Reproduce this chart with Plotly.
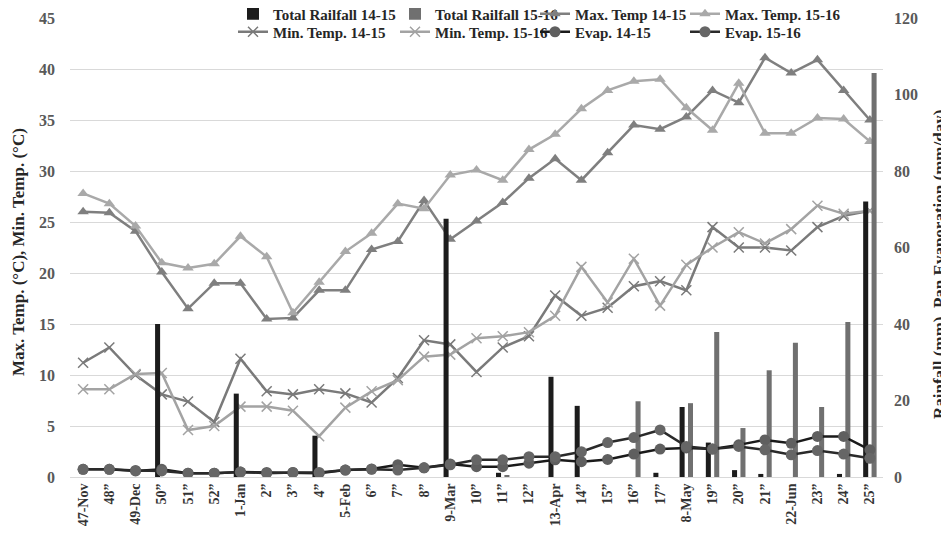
import plotly.graph_objects as go

categories = ["47-Nov", "48”", "49-Dec", "50”", "51”", "52”", "1-Jan", "2”", "3”", "4”",
              "5-Feb", "6”", "7”", "8”", "9-Mar", "10”", "11”", "12”", "13-Apr", "14”",
              "15”", "16”", "17”", "8-May", "19”", "20”", "21”", "22-Jun", "23”", "24”", "25”"]

rain_14_15 = [0, 0, 0, 40.0, 0, 0, 21.8, 0, 0, 10.8, 0, 0, 0, 0, 67.5, 0, 1.1, 0, 26.2, 18.6,
              0, 0, 1.1, 18.3, 9.0, 1.8, 0.8, 0, 0, 0.8, 72.0]
rain_15_16 = [0, 0, 0, 0, 0, 0, 0, 0, 0, 0, 0, 0, 0, 0, 0, 0, 0.5, 0, 0, 0,
              0, 19.8, 0, 19.3, 37.9, 12.8, 27.9, 35.1, 18.3, 40.5, 105.6]

max_14_15 = [26.0, 25.9, 24.1, 20.1, 16.5, 19.0, 19.0, 15.5, 15.6, 18.3, 18.3, 22.3, 23.1, 27.1,
             23.3, 25.1, 26.9, 29.3, 31.2, 29.1, 31.8, 34.5, 34.1, 35.3, 37.9, 36.7, 41.1, 39.6,
             40.9, 37.9, 35.0]
max_15_16 = [27.8, 26.8, 24.6, 21.0, 20.5, 20.9, 23.6, 21.6, 16.1, 19.1, 22.1, 23.9, 26.8, 26.3,
             29.6, 30.1, 29.1, 32.1, 33.6, 36.1, 37.9, 38.8, 39.0, 36.2, 34.0, 38.6, 33.7, 33.7,
             35.2, 35.1, 32.9]

min_14_15 = [11.2, 12.7, 10.0, 8.1, 7.4, 5.4, 11.6, 8.4, 8.1, 8.6, 8.2, 7.3, 9.7, 13.4, 13.0,
             10.3, 12.7, 13.8, 17.8, 15.8, 16.6, 18.7, 19.2, 18.3, 24.5, 22.5, 22.5, 22.2, 24.5,
             25.6, 26.1]
min_15_16 = [8.6, 8.6, 10.1, 10.2, 4.6, 5.0, 6.9, 6.9, 6.5, 4.0, 6.8, 8.4, 9.5, 11.8, 12.0,
             13.6, 13.8, 14.2, 15.8, 20.6, 17.1, 21.4, 16.8, 20.8, 22.5, 24.0, 22.9, 24.3, 26.6,
             25.8, 26.1]

evap_14_15 = [2.0, 2.0, 1.6, 2.0, 1.0, 1.0, 1.3, 1.2, 1.2, 1.0, 1.8, 2.1, 3.2, 2.4, 3.4,
              2.7, 2.7, 3.6, 4.5, 4.0, 4.6, 6.0, 7.3, 7.6, 7.3, 8.4, 9.7, 8.8, 10.6, 10.6, 7.1]
evap_15_16 = [2.0, 2.0, 1.7, 1.6, 1.0, 1.0, 1.3, 1.0, 1.2, 1.2, 1.8, 2.0, 1.8, 2.4, 3.2,
              4.5, 4.5, 5.3, 5.3, 6.6, 9.0, 10.3, 12.3, 8.0, 7.3, 8.0, 7.1, 5.8, 6.9, 6.0, 4.9]

SERIF = "Liberation Serif"
W, H = 949, 541
plot_l, plot_w = 62, 813
plot_t, plot_h = 10, 459


def lx(px):
    return (px - plot_l) / plot_w


def ly(py):
    return (plot_t + plot_h - py) / plot_h


legend_font = dict(family=SERIF, size=15, color="#262626", weight="bold")


def leg(xpx, ypx):
    return dict(x=lx(xpx), y=ly(ypx), xanchor="left", yanchor="middle", orientation="v",
                font=legend_font, bgcolor="rgba(0,0,0,0)", itemwidth=30, visible=True)


col_x = [225, 387, 527, 677]
row_y = [6, 24]

fig = go.Figure()

fig.add_trace(go.Bar(x=categories, y=rain_14_15, name="Total Railfall 14-15", yaxis="y2",
                     marker=dict(color="#1c1c1c", line=dict(width=0)), legend="legend",
                     showlegend=True))
fig.add_trace(go.Bar(x=categories, y=rain_15_16, name="Total Railfall 15-16", yaxis="y2",
                     marker=dict(color="#707070", line=dict(width=0)), legend="legend2"))

fig.add_trace(go.Scatter(x=categories, y=max_14_15, name="Max. Temp 14-15", mode="lines+markers",
                         line=dict(color="#7f7f7f", width=2.5),
                         marker=dict(symbol="triangle-up", size=10, color="#7f7f7f"), legend="legend3"))
fig.add_trace(go.Scatter(x=categories, y=max_15_16, name="Max. Temp. 15-16", mode="lines+markers",
                         line=dict(color="#a9a9a9", width=2.5),
                         marker=dict(symbol="triangle-up", size=10, color="#a9a9a9"), legend="legend4"))

fig.add_trace(go.Scatter(x=categories, y=min_14_15, name="Min. Temp. 14-15", mode="lines+markers",
                         line=dict(color="#7a7a7a", width=2.5),
                         marker=dict(symbol="x-thin", size=10, line=dict(color="#7a7a7a", width=1.5)),
                         legend="legend5"))
fig.add_trace(go.Scatter(x=categories, y=min_15_16, name="Min. Temp. 15-16", mode="lines+markers",
                         line=dict(color="#a3a3a3", width=2.5),
                         marker=dict(symbol="x-thin", size=10, line=dict(color="#a3a3a3", width=1.5)),
                         legend="legend6"))

fig.add_trace(go.Scatter(x=categories, y=evap_14_15, name="Evap. 14-15", mode="lines+markers", yaxis="y2",
                         line=dict(color="#1a1a1a", width=2.5),
                         marker=dict(symbol="circle", size=11, color="#5f5f5f"), legend="legend7"))
fig.add_trace(go.Scatter(x=categories, y=evap_15_16, name="Evap. 15-16", mode="lines+markers", yaxis="y2",
                         line=dict(color="#2a2a2a", width=2.5),
                         marker=dict(symbol="circle", size=11, color="#666666"), legend="legend8"))

fig.update_layout(
    width=W, height=H, showlegend=True,
    margin=dict(l=plot_l, r=W - plot_l - plot_w, t=plot_t, b=H - plot_t - plot_h, autoexpand=False),
    paper_bgcolor="white", plot_bgcolor="white",
    barmode="group", bargap=0.36, bargroupgap=0.4,
    font=dict(family=SERIF, size=14, color="#595959"),
    legend=leg(col_x[0], row_y[0]), legend2=leg(col_x[1], row_y[0]),
    legend3=leg(col_x[2], row_y[0]), legend4=leg(col_x[3], row_y[0]),
    legend5=leg(col_x[0], row_y[1]), legend6=leg(col_x[1], row_y[1]),
    legend7=leg(col_x[2], row_y[1]), legend8=leg(col_x[3], row_y[1]),
    xaxis=dict(type="category", range=[-0.5, len(categories) - 0.5], tickangle=-90,
               showgrid=False, showline=True, linecolor="#d9d9d9",
               linewidth=1, ticks="", automargin=False,
               tickfont=dict(family=SERIF, size=14, color="#333333", weight="bold")),
    yaxis=dict(range=[0, 45], dtick=5, showgrid=True, gridcolor="#d9d9d9", gridwidth=1,
               zeroline=False, ticks="", automargin=False, ticklabelstandoff=14,
               tickfont=dict(family=SERIF, size=16, color="#595959", weight="bold")),
    yaxis2=dict(range=[0, 120], dtick=20, overlaying="y", side="right", showgrid=False,
                zeroline=False, ticks="", automargin=False, ticklabelstandoff=10,
                tickfont=dict(family=SERIF, size=16, color="#595959", weight="bold")),
    annotations=[
        dict(text="Max. Temp. (°C), Min. Temp. (°C)", xref="paper", yref="paper",
             x=lx(11), y=ly(244), textangle=-90, showarrow=False, xanchor="center", yanchor="middle",
             font=dict(family=SERIF, size=17, color="#262626", weight="bold")),
        dict(text="Rainfall (mm), Pan Evaporation (mm/day)", xref="paper", yref="paper",
             x=lx(931), y=ly(257), textangle=-90, showarrow=False, xanchor="center", yanchor="middle",
             font=dict(family=SERIF, size=17, color="#262626", weight="bold")),
    ],
)

fig.write_html("out.html")
